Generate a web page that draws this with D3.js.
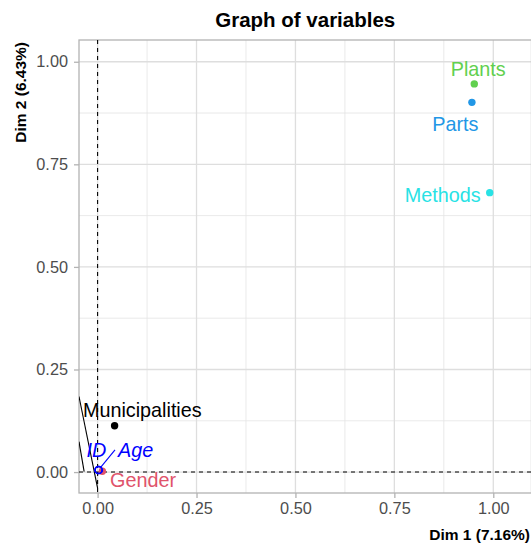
<!DOCTYPE html>
<html>
<head>
<meta charset="utf-8">
<script src="https://cdn.jsdelivr.net/npm/d3@7"></script>
<style>
  html, body { margin: 0; padding: 0; background: #fff; }
  svg { display: block; font-family: "Liberation Sans", Arial, Helvetica, sans-serif; }
</style>
</head>
<body>
<svg id="chart" width="531" height="547"></svg>
<script>
// ---------- data ----------
const variables = ["Plants", "Parts", "Methods", "Municipalities", "Gender", "ID", "Age"];
const dim1 = [0.952, 0.946, 0.991, 0.043, 0.012, 0.002, 0.003];
const dim2 = [0.946, 0.901, 0.681, 0.113, 0.002, 0.005, 0.005];
const varColors = ["#61D04F", "#2297E6", "#28E2E5", "#000000", "#DF536B", "#0000FF", "#0000FF"];
const supplementary = [false, false, false, false, false, true, true];
// repelled label positions (data units: centre x, baseline y)
const labelDim1 = [0.962, 0.904, 0.872, 0.113, 0.115, -0.003, 0.096];
const labelDim2 = [0.965, 0.832, 0.659, 0.135, -0.037, 0.036, 0.036];
// repel connector segments (data units)
const segFrom1 = [-0.047, -0.047, 0.044];
const segFrom2 = [0.184, 0.074, 0.054];
const segTo1 = [0.000, -0.034, 0.0056];
const segTo2 = [-0.039, 0.001, 0.009];
const segColors = ["#000000", "#000000", "#0000FF"];
const tickValues = [0, 0.25, 0.5, 0.75, 1.0];
const minorValues = [0.125, 0.375, 0.625, 0.875];
const titleText = "Graph of variables";
const xTitle = "Dim 1 (7.16%)";
const yTitle = "Dim 2 (6.43%)";

// ---------- layout ----------
const svg = d3.select("#chart");
const panel = { left: 79, top: 40, right: 531.5, bottom: 493 };
const x = d3.scaleLinear().domain([-0.047, 1.0966]).range([panel.left, panel.right]);
const y = d3.scaleLinear().domain([-0.051, 1.053]).range([panel.bottom, panel.top]);

svg.append("defs").append("clipPath").attr("id", "clip")
  .append("rect").attr("x", panel.left).attr("y", panel.top)
  .attr("width", panel.right - panel.left).attr("height", panel.bottom - panel.top);

const grid = svg.append("g");
// minor grid
grid.selectAll(".vminor").data(minorValues).join("line")
  .attr("x1", d => x(d)).attr("x2", d => x(d))
  .attr("y1", panel.top).attr("y2", panel.bottom)
  .attr("stroke", "#E3E3E3").attr("stroke-width", 0.8);
grid.selectAll(".hminor").data(minorValues).join("line")
  .attr("y1", d => y(d)).attr("y2", d => y(d))
  .attr("x1", panel.left).attr("x2", panel.right)
  .attr("stroke", "#E3E3E3").attr("stroke-width", 0.8);
// major grid
grid.selectAll(".vmajor").data(tickValues).join("line")
  .attr("x1", d => x(d)).attr("x2", d => x(d))
  .attr("y1", panel.top).attr("y2", panel.bottom)
  .attr("stroke", "#DEDEDE").attr("stroke-width", 1.3);
grid.selectAll(".hmajor").data(tickValues).join("line")
  .attr("y1", d => y(d)).attr("y2", d => y(d))
  .attr("x1", panel.left).attr("x2", panel.right)
  .attr("stroke", "#DEDEDE").attr("stroke-width", 1.3);

// panel border
svg.append("rect").attr("x", panel.left).attr("y", panel.top)
  .attr("width", panel.right - panel.left).attr("height", panel.bottom - panel.top)
  .attr("fill", "none").attr("stroke", "#B3B3B3").attr("stroke-width", 1.3);

// axes
const xAxis = d3.axisBottom(x).tickValues(tickValues).tickFormat(d3.format(".2f"))
  .tickSize(5).tickPadding(4);
const yAxis = d3.axisLeft(y).tickValues(tickValues).tickFormat(d3.format(".2f"))
  .tickSize(5).tickPadding(6);
const gx = svg.append("g").attr("transform", `translate(0,${panel.bottom})`).call(xAxis);
const gy = svg.append("g").attr("transform", `translate(${panel.left},0)`).call(yAxis);
[gx, gy].forEach(g => {
  g.select(".domain").remove();
  g.selectAll(".tick line").attr("stroke", "#B3B3B3").attr("stroke-width", 1.3);
  g.selectAll(".tick text").attr("fill", "#4D4D4D").attr("font-size", "16.3px")
    .attr("font-family", "Liberation Sans, Arial, sans-serif");
});

const plot = svg.append("g").attr("clip-path", "url(#clip)");

// reference dashed lines
plot.append("line").attr("x1", x(0)).attr("x2", x(0)).attr("y1", panel.top).attr("y2", panel.bottom)
  .attr("stroke", "#000").attr("stroke-width", 1.1).attr("stroke-dasharray", "4,4");
plot.append("line").attr("y1", y(0)).attr("y2", y(0)).attr("x1", panel.left).attr("x2", panel.right)
  .attr("stroke", "#000").attr("stroke-width", 1.1).attr("stroke-dasharray", "4,4");

// connector segments
plot.selectAll(".seg").data(segColors).join("line")
  .attr("x1", (d, i) => x(segFrom1[i])).attr("y1", (d, i) => y(segFrom2[i]))
  .attr("x2", (d, i) => x(segTo1[i])).attr("y2", (d, i) => y(segTo2[i]))
  .attr("stroke", d => d).attr("stroke-width", 1.1);

// points
const idx = variables.map((d, i) => i);
plot.selectAll(".pt").data(idx).join("circle")
  .attr("cx", i => x(dim1[i])).attr("cy", i => y(dim2[i]))
  .attr("r", i => supplementary[i] ? 3.6 : 3.7)
  .attr("fill", i => supplementary[i] ? "none" : varColors[i])
  .attr("stroke", i => varColors[i])
  .attr("stroke-width", i => supplementary[i] ? 1.5 : 0);

// labels
plot.selectAll(".lbl").data(idx).join("text")
  .attr("x", i => x(labelDim1[i])).attr("y", i => y(labelDim2[i]))
  .attr("text-anchor", "middle")
  .attr("font-size", "19.8px")
  .attr("font-style", i => supplementary[i] ? "italic" : "normal")
  .attr("fill", i => varColors[i])
  .text(i => variables[i]);

// titles
svg.append("text").attr("x", (panel.left + panel.right) / 2).attr("y", 27)
  .attr("text-anchor", "middle").attr("font-weight", "bold").attr("font-size", "20.5px")
  .attr("fill", "#000").text(titleText);
svg.append("text").attr("x", 530).attr("y", 539.5)
  .attr("text-anchor", "end").attr("font-weight", "bold").attr("font-size", "15.5px")
  .attr("fill", "#000").text(xTitle);
svg.append("text").attr("transform", "translate(26,42) rotate(-90)")
  .attr("text-anchor", "end").attr("font-weight", "bold").attr("font-size", "15.5px")
  .attr("fill", "#000").text(yTitle);
</script>
</body>
</html>
